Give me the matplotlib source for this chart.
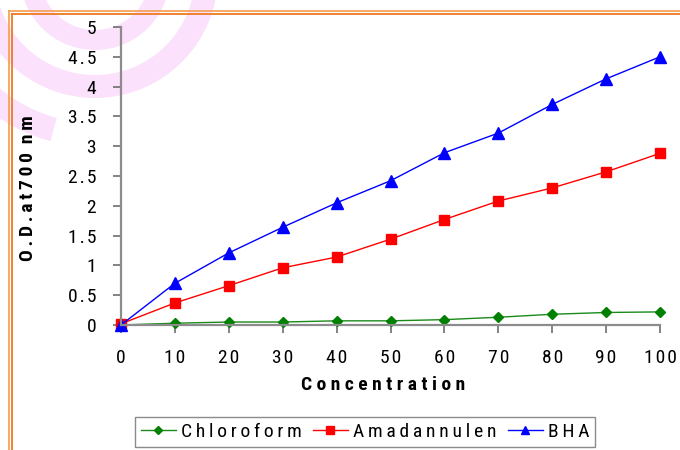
import matplotlib
matplotlib.use("Agg")
import matplotlib.pyplot as plt
from matplotlib import font_manager
from matplotlib.patches import Wedge
from matplotlib.lines import Line2D

# OD readings at 700 nm against concentration
concentration = [0, 10, 20, 30, 40, 50, 60, 70, 80, 90, 100]
chloroform = [0.0, 0.03, 0.05, 0.05, 0.07, 0.07, 0.09, 0.13, 0.18, 0.21, 0.22]
amadannulen = [0.02, 0.37, 0.66, 0.96, 1.14, 1.44, 1.77, 2.08, 2.30, 2.57, 2.88]
bha = [0.0, 0.70, 1.21, 1.64, 2.05, 2.42, 2.89, 3.22, 3.70, 4.13, 4.50]

x_ticks = [0, 10, 20, 30, 40, 50, 60, 70, 80, 90, 100]
y_ticks = [0, 0.5, 1, 1.5, 2, 2.5, 3, 3.5, 4, 4.5, 5]

# prefer a narrow face if one is installed
names = {f.name for f in font_manager.fontManager.ttflist}
narrow = [n for n in ['Liberation Sans Narrow', 'Arial Narrow', 'Roboto Condensed',
                      'Open Sans Condensed', 'DejaVu Sans Condensed'] if n in names]
plt.rcParams['font.family'] = narrow + ['Liberation Sans', 'DejaVu Sans']

fig = plt.figure(figsize=(6.8, 4.5), dpi=100)
fig.patch.set_facecolor('white')

# background layer in pixel coordinates: logo rings and orange frame
bg = fig.add_axes([0, 0, 1, 1], zorder=0)
bg.set_xlim(0, 680)
bg.set_ylim(450, 0)
bg.axis('off')
pink = '#FBE1FB'
bg.add_patch(Wedge((95, -25), 75, 0, 360, width=20, color=pink, lw=0))
bg.add_patch(Wedge((95, -25), 123, 0, 360, width=23, color=pink, lw=0))
bg.add_patch(Wedge((95, -25), 172, 105, 175, width=24, color=pink, lw=0))
for xy, c in [(((8.5, 680), (10.5, 10.5)), '#F4A35A'), (((11.5, 680), (13.5, 13.5)), '#EE7A22'),
              (((8.5, 8.5), (10.5, 450)), '#F4A35A'), (((11.5, 11.5), (13.5, 450)), '#EE7A22')]:
    bg.add_line(Line2D(xy[0], xy[1], color=c, lw=1.3))

ax = fig.add_axes([121 / 680, 1 - 325 / 450, (660 - 121) / 680, (325 - 27) / 450], zorder=1)
ax.set_facecolor('none')

size = 14
wide, thin, hair = ' ', '\u2009', '\u200a'


def spaced(s, sp):
    # letter-spaced strings
    return sp.join(s)


ax.plot(concentration, chloroform, color='#1A8A1A', lw=1.0, marker='D', ms=5.5,
        mfc='#008000', mec='#008000', clip_on=False, label=spaced('Chloroform', thin))
ax.plot(concentration, amadannulen, color='#FF0000', lw=1.0, marker='s', ms=6.5,
        mfc='#FF0000', mec='#FF0000', clip_on=False, label=spaced('Amadannulen', thin))
ax.plot(concentration, bha, color='#0000FF', lw=1.0, marker='^', ms=8,
        mfc='#0000FF', mec='#0000FF', clip_on=False, label=spaced('BHA', thin))

ax.set_xlim(0, 100)
ax.set_ylim(0, 5)
ax.set_xticks(x_ticks)
ax.set_xticklabels([spaced(str(v), hair) for v in x_ticks])
ax.set_yticks(y_ticks)
ax.set_yticklabels([spaced('%g' % v, hair) for v in y_ticks])

for side in ['top', 'right']:
    ax.spines[side].set_visible(False)
for side in ['left', 'bottom']:
    ax.spines[side].set_color('#8C8C8C')
    ax.spines[side].set_linewidth(1.6)
ax.tick_params(axis='both', direction='out', length=6, width=1.2, color='#6E6E6E',
               labelsize=size, labelcolor='black')
ax.tick_params(axis='y', pad=12)
ax.tick_params(axis='x', pad=11)

fig.text(28 / 680, 1 - 188 / 450, spaced('O.D.at700', thin) + wide * 2 + spaced('nm', thin),
         rotation=90, ha='center', va='center', fontsize=size, fontweight='bold')
fig.text(383 / 680, 1 - 385 / 450, spaced('Concentration', wide), ha='center', va='center',
         fontsize=size, fontweight='bold')

leg = fig.legend(loc='center', bbox_to_anchor=(365 / 680, 1 - 432 / 450), ncol=3,
                 fontsize=size, frameon=True, fancybox=False, handlelength=1.8,
                 handletextpad=0.25, columnspacing=0.6, borderpad=0.3, markerscale=0.8)
leg.get_frame().set_edgecolor('#6E6E6E')
leg.get_frame().set_linewidth(1.0)

fig.savefig('out.png', dpi=100)
